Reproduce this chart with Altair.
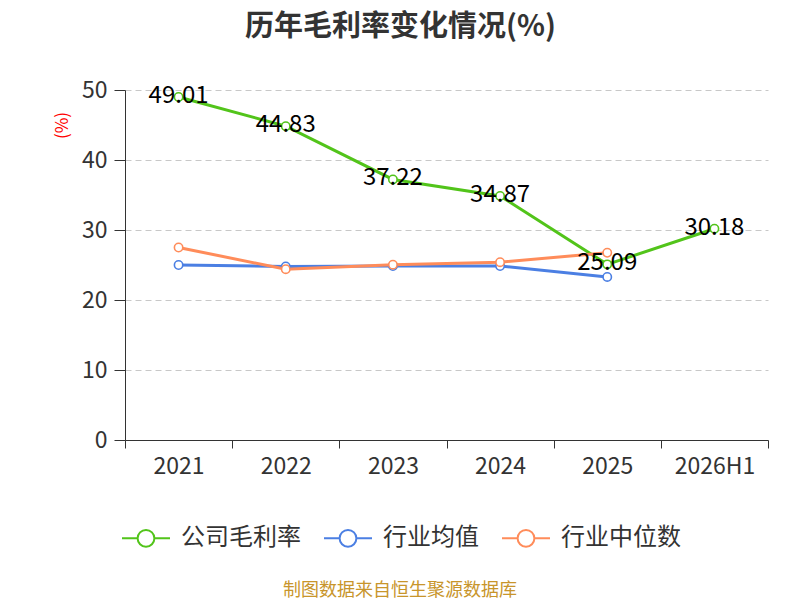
import altair as alt
import pandas as pd

years = ["2021", "2022", "2023", "2024", "2025", "2026H1"]
series_names = ["公司毛利率", "行业均值", "行业中位数"]
colors = ["#52c41a", "#4b7fe3", "#ff8c5a"]

company = [49.01, 44.83, 37.22, 34.87, 25.09, 30.18]
industry_avg = [25.0, 24.8, 24.85, 24.85, 23.3, None]
industry_median = [27.5, 24.4, 25.05, 25.4, 26.75, None]

rows = []
for name, vals in zip(series_names, [company, industry_avg, industry_median]):
    for y, v in zip(years, vals):
        if v is not None:
            rows.append({"year": y, "series": name, "value": v})
df = pd.DataFrame(rows)
labels_df = df[df["series"] == "公司毛利率"].copy()
labels_df["label"] = labels_df["value"].map(lambda v: f"{v:.2f}")

FONT = "Noto Sans CJK SC"
W, H = 643, 350

legend_path = ("M-1,0L-0.35,0M0.35,0L1,0M-0.35,0A0.35,0.35,0,1,1,0.35,0"
               "A0.35,0.35,0,1,1,-0.35,0")

x_enc = alt.X("year:N", sort=years, title=None,
              scale=alt.Scale(paddingInner=0, paddingOuter=0),
              axis=alt.Axis(tickBand="extent", labelAngle=0, labelFontSize=23,
                            labelColor="#333", labelFont=FONT, tickSize=8,
                            tickColor="#333", domainColor="#333", labelPadding=7,
                            grid=False))
y_enc = alt.Y("value:Q", scale=alt.Scale(domain=[0, 50]),
              axis=alt.Axis(values=[0, 10, 20, 30, 40, 50], title="(%)",
                            titleColor="red", titleFontSize=17, titleFont=FONT,
                            titleFontWeight="normal", titleX=-63, titleY=35,
                            titleAlign="center", titleBaseline="middle",
                            labelFontSize=23, labelColor="#333", labelFont=FONT,
                            tickSize=11, tickColor="#333", domainColor="#333",
                            labelPadding=7, gridDash=[6, 4], gridColor="#c8c8c8"))
color_enc = alt.Color("series:N", sort=series_names,
                      scale=alt.Scale(domain=series_names, range=colors),
                      legend=alt.Legend(title=None, orient="none", direction="horizontal",
                                        legendX=-4, legendY=423, symbolType=legend_path,
                                        symbolSize=2304, symbolStrokeWidth=2,
                                        symbolFillColor="white", labelFontSize=24,
                                        labelFont=FONT, labelColor="#333",
                                        labelOffset=10, columnPadding=19, padding=0))

base = alt.Chart(df).encode(x=x_enc, y=y_enc, color=color_enc)
lines = base.mark_line(strokeWidth=3)
points = base.mark_point(filled=False, fill="white", fillOpacity=1, size=70,
                         strokeWidth=1.6, opacity=1)

labels = alt.Chart(labels_df).mark_text(fontSize=24, font=FONT, color="black",
                                        align="center", baseline="middle", dy=-1).encode(
    x=alt.X("year:N", sort=years), y="value:Q", text="label:N")

footer = alt.Chart(pd.DataFrame({"t": ["制图数据来自恒生聚源数据库"]})).mark_text(
    fontSize=18, font=FONT, color="#c8952b", align="center", baseline="middle").encode(
    x=alt.value(275), y=alt.value(501), text="t:N")

chart = alt.layer(lines, points, labels, footer).properties(
    width=W, height=H,
    autosize=alt.AutoSizeParams(type="none"),
    padding={"left": 117, "top": 82, "right": 24, "bottom": 160},
    title=alt.TitleParams("历年毛利率变化情况(%)", fontSize=29, font=FONT,
                          fontWeight="bold", color="#333", anchor="middle",
                          dx=-46, offset=37),
).configure_view(stroke=None)

chart.save("out.html", embed_options={"renderer": "svg", "actions": False})
